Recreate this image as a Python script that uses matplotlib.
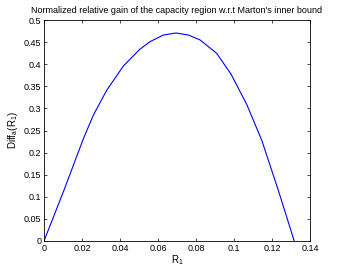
import numpy as np
import matplotlib
matplotlib.use("Agg")
import matplotlib.pyplot as plt

# values
r1 = [0, 0.0107, 0.0205, 0.026, 0.033, 0.0418, 0.0505, 0.0558, 0.0628,
      0.0695, 0.076, 0.0821, 0.0909, 0.0985, 0.1067, 0.1146, 0.1233, 0.1317]
diff_a = [0, 0.117, 0.229, 0.285, 0.341, 0.396, 0.434, 0.451, 0.466,
          0.4706, 0.466, 0.455, 0.4245, 0.377, 0.309, 0.228, 0.115, 0]

xticks = [0, 0.02, 0.04, 0.06, 0.08, 0.1, 0.12, 0.14]
xticklabels = ["0", "0.02", "0.04", "0.06", "0.08", "0.1", "0.12", "0.14"]
yticks = [0, 0.05, 0.1, 0.15, 0.2, 0.25, 0.3, 0.35, 0.4, 0.45, 0.5]
yticklabels = ["0", "0.05", "0.1", "0.15", "0.2", "0.25", "0.3", "0.35", "0.4", "0.45", "0.5"]

plt.rcParams['font.family'] = ['Liberation Sans', 'DejaVu Sans']
plt.rcParams['mathtext.fontset'] = 'custom'
plt.rcParams['mathtext.rm'] = 'Liberation Sans'

fig = plt.figure(figsize=(3.42, 2.72), dpi=100)
ax = fig.add_axes([44/342, 31/272, 266/342, 221/272])
ax.plot(r1, diff_a, color=(0, 0, 1), linewidth=0.8)

ax.set_xlim(0, 0.14)
ax.set_ylim(0, 0.5)
ax.set_xticks(xticks)
ax.set_xticklabels(xticklabels)
ax.set_yticks(yticks)
ax.set_yticklabels(yticklabels)
ax.tick_params(direction='in', top=True, right=True, labelsize=6.5, length=2.5, width=0.5, pad=2)
for s in ax.spines.values():
    s.set_linewidth(0.6)

ax.set_title("Normalized relative gain of the capacity region w.r.t Marton's inner bound",
             fontsize=6.5, pad=5)
ax.set_xlabel(r"R$_\mathrm{1}$", fontsize=7, labelpad=0)
ax.set_ylabel(r"Diff$_\mathrm{a}$(R$_\mathrm{1}$)", fontsize=7, labelpad=3)

fig.savefig("out.png", dpi=100)
